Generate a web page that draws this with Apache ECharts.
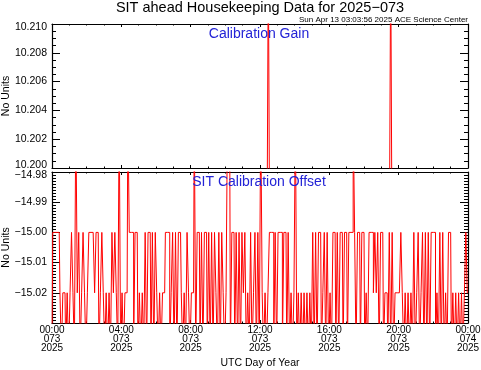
<!DOCTYPE html>
<html><head><meta charset="utf-8">
<script src="https://cdn.jsdelivr.net/npm/echarts@6/dist/echarts.min.js"></script>
<style>html,body{margin:0;padding:0;background:#fff}#c{width:481px;height:370px}</style>
</head><body><div id="c"></div>
<script>
// ---- data ----
const hourLabels = ['00:00','04:00','08:00','12:00','16:00','20:00','00:00'];
const dayLabels  = ['073','073','073','073','073','073','074'];
const yearLabels = ['2025','2025','2025','2025','2025','2025','2025'];
const gainTickLabels = ['10.200','10.202','10.204','10.206','10.208','10.210'];
const offsetTickLabels = ['','\u221215.02','\u221215.01','\u221215.00','\u221214.99','\u221214.98'];

// Calibration Gain (off-scale baseline with two spikes)
const gainHours  = [0, 12.42, 12.48, 12.54, 19.48, 19.54, 19.60, 24];
const gainValues = [10.199, 10.199, 10.215, 10.199, 10.199, 10.215, 10.199, 10.199];

// SIT Calibration Offset, 5-minute samples per 4-hour block
const offsetStepMinutes = 5;
const offset00 = [-15.04,-15.00,-15.00,-15.00,-15.00,-15.00,-15.02,-15.04,-15.02,-15.02,-15.04,-15.02,-15.04,-15.02,-15.00,-15.02,-15.04,-14.96,-15.02,-15.00,-15.04,-15.02,-15.00,-15.02,-15.04,-15.02,-15.00,-15.00,-15.00,-15.00,-15.02,-15.00,-15.00,-15.04,-15.02,-15.00,-15.02,-15.04,-15.02,-15.04,-15.02,-15.04,-15.00,-15.02,-15.00,-15.02,-15.04,-14.96];
const offset04 = [-15.04,-15.02,-15.04,-15.02,-15.02,-14.96,-15.00,-15.00,-15.00,-15.04,-15.00,-15.00,-15.04,-15.02,-15.04,-15.02,-15.04,-15.00,-15.04,-15.00,-15.00,-15.04,-15.00,-15.04,-15.00,-15.02,-15.04,-15.02,-15.04,-15.02,-15.02,-15.00,-15.00,-15.00,-15.04,-15.02,-15.00,-15.04,-15.00,-15.04,-15.00,-15.00,-15.02,-15.04,-15.02,-15.04,-15.00,-15.02];
const offset08 = [-15.04,-15.02,-15.02,-14.96,-15.04,-15.00,-15.00,-15.04,-15.00,-15.04,-15.00,-15.00,-15.04,-15.00,-15.04,-15.00,-15.04,-15.00,-15.02,-15.04,-15.00,-15.04,-15.00,-15.02,-15.04,-15.02,-14.96,-14.96,-15.04,-15.00,-15.00,-15.04,-15.00,-15.04,-15.00,-15.04,-15.00,-15.02,-15.00,-15.04,-15.02,-15.04,-15.00,-15.04,-15.02,-15.00,-15.04,-15.00];
const offset12 = [-15.04,-14.96,-15.02,-15.04,-15.02,-15.04,-15.02,-15.00,-15.00,-15.00,-15.04,-15.00,-15.04,-15.00,-15.00,-15.00,-15.04,-15.00,-15.00,-15.04,-15.00,-15.04,-15.02,-15.04,-15.02,-14.96,-15.04,-15.02,-15.04,-15.02,-15.04,-15.02,-15.04,-15.02,-15.04,-15.02,-15.04,-15.00,-15.04,-15.00,-15.04,-15.00,-15.00,-15.04,-15.02,-15.00,-15.04,-15.00];
const offset16 = [-15.04,-15.02,-15.04,-15.00,-15.00,-15.04,-15.00,-15.04,-15.00,-15.00,-15.04,-15.00,-15.00,-15.04,-15.00,-15.00,-15.00,-14.96,-15.00,-15.04,-15.00,-15.00,-15.04,-15.00,-15.00,-15.04,-15.02,-15.04,-15.00,-15.00,-15.00,-15.02,-15.00,-15.02,-15.00,-15.04,-15.00,-15.00,-15.04,-15.02,-15.02,-15.04,-15.00,-15.04,-15.00,-15.04,-15.02,-15.02];
const offset20 = [-15.02,-15.02,-15.00,-15.02,-15.04,-15.02,-15.04,-15.02,-15.04,-15.02,-15.04,-15.00,-15.04,-15.02,-15.00,-15.04,-15.02,-15.00,-15.04,-15.00,-15.04,-15.00,-15.04,-15.00,-15.00,-15.00,-15.04,-15.02,-15.04,-15.00,-15.04,-15.00,-15.04,-15.02,-15.04,-15.00,-15.00,-15.04,-15.02,-15.04,-15.02,-15.04,-15.02,-15.04,-15.02,-15.04,-15.02,-15.00,-15.02];

// ---- build ----
const gainData = gainHours.map((h, i) => [h, gainValues[i]]);
const offsetBlocks = [offset00, offset04, offset08, offset12, offset16, offset20];
const offsetData = [];
offsetBlocks.forEach((blk, k) => blk.forEach((v, i) => offsetData.push([4 * k + i * offsetStepMinutes / 60, v])));

const FONT = 'Liberation Sans, Arial, Helvetica, sans-serif';
const BLUE = '#2323d6';
const RED = '#ff0000';

function xAx(grid, pos, withLabels, tickLen) {
  return {
    type: 'value', gridIndex: grid, position: pos, min: 0, max: 24, interval: 4,
    axisLine: { show: true, onZero: false, lineStyle: { color: '#000', width: 1.2 } },
    axisTick: { show: true, inside: true, length: tickLen, lineStyle: { color: '#000', width: 1 } },
    minorTick: { show: true, splitNumber: 4, length: tickLen / 2, lineStyle: { color: '#000', width: 1 } },
    splitLine: { show: false }, minorSplitLine: { show: false },
    axisLabel: withLabels ? {
      show: true, color: '#000', fontFamily: FONT, fontSize: 10, lineHeight: 9, margin: 3,
      formatter: v => { const i = Math.round(v / 4); return hourLabels[i] + '\n' + dayLabels[i] + '\n' + yearLabels[i]; }
    } : { show: false },
    name: withLabels ? 'UTC Day of Year' : '',
    nameLocation: 'middle', nameGap: 35, nameMoveOverlap: false,
    nameTextStyle: { color: '#000', fontFamily: FONT, fontSize: 10.5 }
  };
}
const labelRich = {
  n:  { fontFamily: FONT, fontSize: 10.5, color: '#000' },
  up: { fontFamily: FONT, fontSize: 10.5, color: '#000', padding: [0, 0, 6, 0] },
  dn: { fontFamily: FONT, fontSize: 10.5, color: '#000', padding: [6, 0, 0, 0] }
};
function yAx(grid, pos, min, max, interval, minorSplit, labelFn, name) {
  return {
    type: 'value', gridIndex: grid, position: pos, min: min, max: max, interval: interval,
    axisLine: { show: true, onZero: false, lineStyle: { color: '#000', width: 1.2 } },
    axisTick: { show: true, inside: true, length: 8, lineStyle: { color: '#000', width: 1 } },
    minorTick: { show: true, splitNumber: minorSplit, length: 4, lineStyle: { color: '#000', width: 1 } },
    splitLine: { show: false }, minorSplitLine: { show: false },
    axisLabel: labelFn ? { show: true, color: '#000', fontFamily: FONT, fontSize: 10.5, margin: 5, formatter: labelFn, rich: labelRich } : { show: false },
    name: name || '', nameLocation: 'middle', nameGap: 40, nameRotate: 90, nameMoveOverlap: false,
    nameTextStyle: { color: '#000', fontFamily: FONT, fontSize: 10.5 }
  };
}

const gainFmt = v => {
  const i = Math.round((v - 10.2) / 0.002);
  const t = gainTickLabels[i] || '';
  if (!t) return '';
  if (i === 0) return '{up|' + t + '}';
  if (i === gainTickLabels.length - 1) return '{dn|' + t + '}';
  return '{n|' + t + '}';
};
const offFmt = v => {
  const i = Math.round((v + 15.03) / 0.01);
  const t = offsetTickLabels[i] || '';
  if (!t) return '';
  if (i === offsetTickLabels.length - 1) return '{dn|' + t + '}';
  return '{n|' + t + '}';
};

const chart = echarts.init(document.getElementById('c'), null, { renderer: 'canvas' });
chart.setOption({
  animation: false,
  backgroundColor: '#fff',
  grid: [
    { left: 52, top: 24, width: 416, height: 144, containLabel: false, outerBoundsMode: 'none' },
    { left: 52, top: 172, width: 416, height: 151, containLabel: false, outerBoundsMode: 'none' }
  ],
  xAxis: [xAx(0, 'bottom', false, 3), xAx(0, 'top', false, 3), xAx(1, 'bottom', true, 3), xAx(1, 'top', false, 3)],
  yAxis: [
    yAx(0, 'left', 10.2, 10.21, 0.002, 4, gainFmt, 'No Units'),
    yAx(0, 'right', 10.2, 10.21, 0.002, 4, null, ''),
    yAx(1, 'left', -15.03, -14.98, 0.01, 10, offFmt, 'No Units'),
    yAx(1, 'right', -15.03, -14.98, 0.01, 10, null, '')
  ],
  series: [
    { type: 'line', xAxisIndex: 0, yAxisIndex: 0, data: gainData, showSymbol: false, symbol: 'none', clip: true,
      lineStyle: { color: RED, width: 1 }, silent: true },
    { type: 'line', xAxisIndex: 2, yAxisIndex: 2, data: offsetData, showSymbol: false, symbol: 'none', clip: true,
      step: 'middle', lineStyle: { color: RED, width: 1 }, silent: true }
  ],
  graphic: [
    { type: 'text', x: 260, y: 7.5, style: { text: 'SIT ahead Housekeeping Data for 2025\u2212073', fill: '#000', font: '14.5px ' + FONT, align: 'center', verticalAlign: 'middle' } },
    { type: 'text', x: 468, y: 19.5, style: { text: 'Sun Apr 13 03:03:56 2025 ACE Science Center', fill: '#000', font: '8px ' + FONT, align: 'right', verticalAlign: 'middle' } },
    { type: 'text', x: 259, y: 34, z: 10, style: { text: 'Calibration Gain', fill: BLUE, font: '14px ' + FONT, align: 'center', verticalAlign: 'middle' } },
    { type: 'text', x: 259, y: 182.5, z: 10, style: { text: 'SIT Calibration Offset', fill: BLUE, font: '14px ' + FONT, align: 'center', verticalAlign: 'middle' } }
  ]
});
</script>
</body></html>
